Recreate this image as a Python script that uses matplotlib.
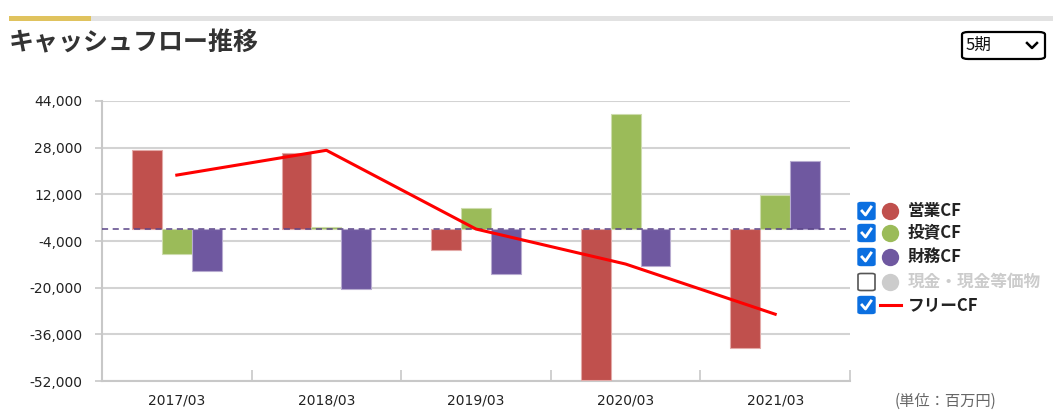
import matplotlib
matplotlib.use("Agg")
import matplotlib.pyplot as plt
import numpy as np
from matplotlib.patches import FancyBboxPatch, Rectangle, Circle
from matplotlib.lines import Line2D

categories = ["2017/03", "2018/03", "2019/03", "2020/03", "2021/03"]
operating_cf = [27200, 26300, -7200, -51500, -40700]
investing_cf = [-8600, 800, 7300, 39600, 11600]
financing_cf = [-14300, -20400, -15200, -12400, 23500]
free_cf = [18600, 27100, 100, -11900, -29100]
y_ticks = [44000, 28000, 12000, -4000, -20000, -36000, -52000]
series_names = ["営業CF", "投資CF", "財務CF", "現金・現金等価物", "フリーCF"]

W, H = 1053, 419
fig = plt.figure(figsize=(W / 100, H / 100), dpi=100)
plt.rcParams['font.family'] = ['Noto Sans CJK JP', 'DejaVu Sans']

def fx(x):
    return x / W

def fy(y):
    return 1 - y / H

ax = fig.add_axes([fx(102), fy(381), fx(850) - fx(102), fy(101) - fy(381)])

red = "#c0504d"
green = "#9bbb59"
purple = "#6f58a0"
x = np.arange(len(categories))
bw = 0.2
ax.bar(x - bw, operating_cf, bw, color=red, edgecolor="#e3a9a7", linewidth=0.8, zorder=3)
ax.bar(x, investing_cf, bw, color=green, edgecolor="#cddcad", linewidth=0.8, zorder=3)
ax.bar(x + bw, financing_cf, bw, color=purple, edgecolor="#b7abd0", linewidth=0.8, zorder=3)
ax.plot(x, free_cf, color="#ff0000", linewidth=2.2, zorder=5)
ax.axhline(0, color="#5a4487", linestyle=(0, (4, 3)), linewidth=1.1, zorder=4)

ax.set_xlim(-0.5, len(categories) - 0.5)
ax.set_ylim(-52000, 44000)
ax.set_yticks(y_ticks)
ax.set_yticklabels([f"{v:,}" for v in y_ticks], family="DejaVu Sans", fontsize=10, color="#222222")
ax.yaxis.grid(True, color="#d3d3d3", linewidth=1.5, zorder=0)
ax.tick_params(axis="y", length=5, width=1.2, color="#c8c8c8", pad=9)
ax.set_xticks(np.arange(-0.5, len(categories), 1.0))
ax.set_xticks(x, minor=True)
ax.set_xticklabels([""] * 6)
ax.set_xticklabels(categories, minor=True, family="DejaVu Sans", fontsize=10, color="#222222")
ax.tick_params(axis="x", which="major", direction="in", length=8, width=1.2, color="#c8c8c8")
ax.tick_params(axis="x", which="minor", length=0, pad=9)
for s in ["top", "right"]:
    ax.spines[s].set_visible(False)
for s in ["left", "bottom"]:
    ax.spines[s].set_color("#c8c8c8")
    ax.spines[s].set_linewidth(1.5)

# header bar
fig.add_artist(Rectangle((fx(9), fy(21)), 1 - fx(9), fy(16) - fy(21), transform=fig.transFigure, color="#e2e2e2", lw=0))
fig.add_artist(Rectangle((fx(9), fy(21)), fx(91) - fx(9), fy(16) - fy(21), transform=fig.transFigure, color="#e0c35e", lw=0))
fig.text(fx(9), fy(43), "キャッシュフロー推移", fontsize=18, fontweight="bold", color="#333333", va="center", ha="left")

# dropdown
fig.add_artist(FancyBboxPatch((fx(962), fy(59)), fx(1045) - fx(962), fy(32) - fy(59),
                              boxstyle="round,pad=0,rounding_size=0.006", transform=fig.transFigure,
                              facecolor="white", edgecolor="black", lw=1.6))
fig.text(fx(966), fy(45), "5期", fontsize=12, color="#111111", va="center", ha="left")
fig.add_artist(Line2D([fx(1027), fx(1032), fx(1037)], [fy(43), fy(48), fy(43)], transform=fig.transFigure, color="black", lw=1.8))

# legend
rows = [211, 233, 257, 282, 305]
colors = [red, green, purple, "#cccccc", "#ff0000"]
checked = [True, True, True, False, True]
for i, (yy, c, chk, name) in enumerate(zip(rows, colors, checked, series_names)):
    bx, by = 858, yy - 8.5
    if chk:
        fig.add_artist(FancyBboxPatch((fx(bx), fy(by + 17)), fx(17), 17 / H,
                                      boxstyle="round,pad=0,rounding_size=0.003", transform=fig.transFigure,
                                      facecolor="#0b6fe0", edgecolor="#0b6fe0", lw=1))
        fig.add_artist(Line2D([fx(bx + 4), fx(bx + 7.5), fx(bx + 13)], [fy(by + 8.5), fy(by + 12.5), fy(by + 4.5)],
                              transform=fig.transFigure, color="white", lw=2))
    else:
        fig.add_artist(FancyBboxPatch((fx(bx), fy(by + 17)), fx(17), 17 / H,
                                      boxstyle="round,pad=0,rounding_size=0.003", transform=fig.transFigure,
                                      facecolor="white", edgecolor="#555555", lw=1.2))
    if i == 4:
        fig.add_artist(Line2D([fx(880), fx(901)], [fy(yy), fy(yy)], transform=fig.transFigure, color=c, lw=2.2))
    else:
        fig.add_artist(Line2D([fx(890)], [fy(yy)], transform=fig.transFigure, marker="o", markersize=12.5,
                              color=c, markeredgewidth=0))
    fig.text(fx(908), fy(yy), name, fontsize=12, fontweight="bold",
             color="#cccccc" if not chk else "#222222", va="center", ha="left")

fig.text(fx(895), fy(401), "(単位：百万円)", fontsize=11, color="#666666", va="center", ha="left")

fig.savefig("out.png", dpi=100)
